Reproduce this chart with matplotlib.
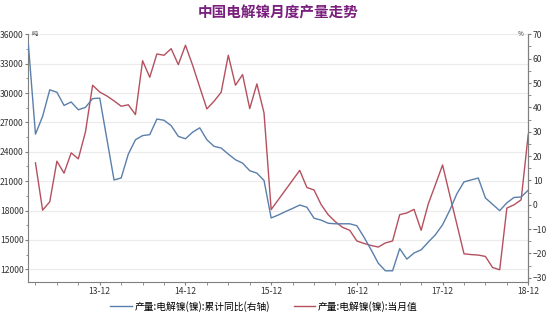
import numpy as np
import matplotlib.pyplot as plt
from matplotlib.ticker import MultipleLocator, FixedLocator

plt.rcParams['font.family'] = ['Noto Sans CJK SC', 'DejaVu Sans']

# months counted from 2013-02 (index 0) to 2018-12 (index 70)
tick_pos = [10, 22, 34, 46, 58, 70]
tick_labels = ['13-12', '14-12', '15-12', '16-12', '17-12', '18-12']

# 产量:电解镍(镍):累计同比 (%), right axis
yoy = [66, 29, 36.3, 47.2, 46.2, 40.8, 42.2, 39.0, 40.0, 43.6,
       43.8, 27, 10.2, 11.0, 20.8, 26.7, 28.4, 28.8, 35.2, 34.7,
       32.5, 28.1, 27.1, 29.8, 31.6, 26.7, 24.0, 23.3, 20.8, 18.5,
       17.1, 14.0, 13.0, 10.0, -5.4, -4.2, -2.8, -1.5, -0.1, -1.0,
       -5.5, -6.3, -7.6, -7.8, -7.8, -7.8, -8.6, -13.3, -18.5, -24.0,
       -27.1, -27.1, -18.0, -22.3, -19.8, -18.5, -15.3, -12.3, -8.2, -2.3,
       4.5, 9.4, 10.2, 11.0, 2.8, 0.2, -2.4, 0.8, 3.0, 3.2,
       6.0]

# 产量:电解镍(镍):当月值 (吨), left axis
monthly = [np.nan, 22870, 18040, 18890, 23040, 21820, 23890, 23280, 26030, 30800,
           30100, 29700, 29200, 28650, 28800, 27800, 33300, 31610, 33990, 33860,
           34530, 32900, 34880, 32850, 30600, 28380, 29160, 30080, 33860, 30800,
           31880, 28410, 30930, 27970, 18100, 19100, 20100, 21100, 22100, 20350,
           20100, 18600, 17560, 16850, 16280, 15980, 14890, 14640, 14430, 14270,
           14690, 14890, 17580, 17750, 18120, 15980, 18680, 20650, 22650, 19600,
           16600, 13580, 13500, 13450, 13310, 12180, 11950, 18250, 18580, 19090,
           25800]

x = np.arange(len(yoy))
blue = '#5a7fab'
red = '#b5505e'
axis_col = '#7f7f7f'

fig = plt.figure(figsize=(5.5, 3.19), dpi=100)
ax = fig.add_axes([0.0515, 0.116, 0.909, 0.7765])
ax2 = ax.twinx()

l2, = ax.plot(x, monthly, color=red, lw=1.0)
l1, = ax2.plot(x, yoy, color=blue, lw=1.0)

ax.set_xlim(0, 70)
ax.set_yticks(np.arange(12000, 36001, 3000))
ax.set_ylim(10700, 36000)
ax2.set_ylim(-31.7, 70)

ax.yaxis.set_minor_locator(MultipleLocator(1500))
ax2.yaxis.set_major_locator(MultipleLocator(10))
ax2.yaxis.set_minor_locator(MultipleLocator(5))
ax.xaxis.set_major_locator(FixedLocator(tick_pos))
ax.xaxis.set_minor_locator(FixedLocator(np.arange(1, 71, 3)))
ax.set_xticklabels(tick_labels)

ax.grid(axis='y', color='#ebebeb', lw=0.8)
ax.set_axisbelow(True)

for a in (ax, ax2):
    a.spines['top'].set_visible(False)
    for s in ('left', 'right', 'bottom'):
        a.spines[s].set_color(axis_col)
    a.tick_params(which='both', colors=axis_col, labelcolor='#333333',
                  labelsize=6.2, pad=0.8)
    a.tick_params(which='major', length=2.5)
    a.tick_params(which='minor', length=1.8)
ax2.spines['left'].set_visible(False)
ax2.spines['bottom'].set_visible(False)

fig.text(0.505, 0.962, '中国电解镍月度产量走势', ha='center', va='center',
         fontsize=10.5, fontweight='bold', color='#7a1f7e')
fig.text(0.058, 0.893, '吨', fontsize=4.5, color='#333333', va='center')
fig.text(0.952, 0.893, '%', fontsize=4.5, color='#333333', va='center',
         ha='right')

fig.legend([l1, l2], ['产量:电解镍(镍):累计同比(右轴)', '产量:电解镍(镍):当月值'],
           loc='center', bbox_to_anchor=(0.48, 0.04), ncol=2, frameon=False,
           fontsize=7, handlelength=2.2, columnspacing=2.4, handletextpad=0.3)

fig.savefig('out.png', dpi=100)
